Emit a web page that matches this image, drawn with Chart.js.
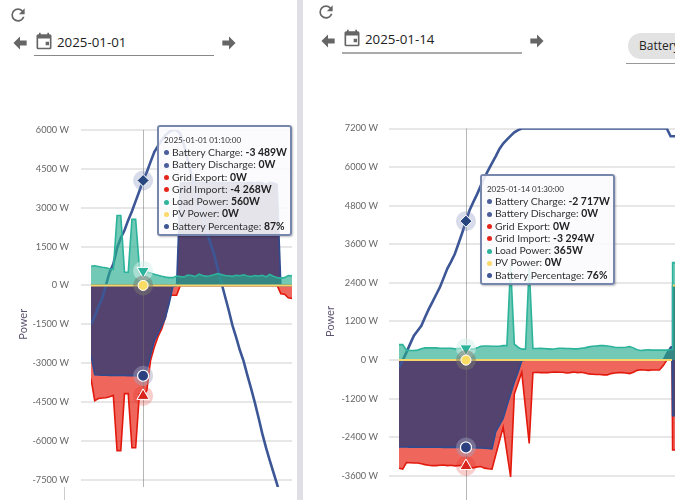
<!DOCTYPE html>
<html>
<head>
<meta charset="utf-8">
<script src="https://cdn.jsdelivr.net/npm/chart.js@4"></script>
<style>
html, body { margin: 0; padding: 0; width: 675px; height: 500px; overflow: hidden; background: #fff; font-family: "Open Sans", sans-serif; color: #333; }
.abs { position: absolute; }
.icon { position: absolute; fill: #666; }
.date { position: absolute; font-size: 13.3px; color: #222; }
.line { position: absolute; height: 1px; background: #888; width: 180px; }
.tip { position: absolute; box-sizing: border-box; width: 135px; height: 111px; padding: 7px 0 0 5px; background: rgba(250,250,253,.88); border: 2px solid #7786ad; border-radius: 3px; box-shadow: 1px 1px 2px rgba(0,0,0,.25); font-family: Lato, sans-serif; font-size: 10.4px; line-height: 12.3px; color: #333; white-space: nowrap; }
.tip .t { font-size: 8px; line-height: 12px; color: #333; }
.tip i { display: inline-block; width: 5px; height: 5px; border-radius: 50%; margin: 0 3px 1px 0; vertical-align: middle; }
.tip b { color: #222; }
</style>
</head>
<body>
<div class="abs" style="left:297px;top:0;width:6px;height:500px;background:#dfdfe5"></div>
<div class="abs" style="left:64px;top:487px;width:1px;height:13px;background:#ccc"></div>

<svg class="icon" style="left:8px;top:5px" width="20" height="20" viewBox="0 0 24 24"><path d="M17.65,6.35C16.2,4.9 14.21,4 12,4A8,8 0 0,0 4,12A8,8 0 0,0 12,20C15.73,20 18.84,17.45 19.73,14H17.65C16.83,16.33 14.61,18 12,18A6,6 0 0,1 6,12A6,6 0 0,1 12,6C13.66,6 15.14,6.69 16.22,7.78L13,11H20V4L17.65,6.35Z"/></svg>
<svg class="icon" style="left:10px;top:33px" width="20" height="20" viewBox="0 0 24 24"><path d="M20,9V15H12V19.84L4.16,12L12,4.16V9H20Z"/></svg>
<svg class="icon" style="left:34px;top:31px" width="20" height="20" viewBox="0 0 24 24"><path d="M14,13H18V17H14V13M19,20H5V9H19M19,4H18V2H16V4H8V2H6V4H5C3.9,4 3,4.9 3,6V20A2,2 0 0,0 5,22H19A2,2 0 0,0 21,20V6A2,2 0 0,0 19,4Z"/></svg>
<div class="date" style="left:57px;top:33px">2025-01-01</div>
<div class="line" style="left:34px;top:55px"></div>
<svg class="icon" style="left:219px;top:33px" width="20" height="20" viewBox="0 0 24 24"><path d="M4,15V9H12V4.16L19.84,12L12,19.84V15H4Z"/></svg>

<svg class="icon" style="left:316px;top:2px" width="20" height="20" viewBox="0 0 24 24"><path d="M17.65,6.35C16.2,4.9 14.21,4 12,4A8,8 0 0,0 4,12A8,8 0 0,0 12,20C15.73,20 18.84,17.45 19.73,14H17.65C16.83,16.33 14.61,18 12,18A6,6 0 0,1 6,12A6,6 0 0,1 12,6C13.66,6 15.14,6.69 16.22,7.78L13,11H20V4L17.65,6.35Z"/></svg>
<svg class="icon" style="left:318px;top:31px" width="20" height="20" viewBox="0 0 24 24"><path d="M20,9V15H12V19.84L4.16,12L12,4.16V9H20Z"/></svg>
<svg class="icon" style="left:342px;top:28px" width="20" height="20" viewBox="0 0 24 24"><path d="M14,13H18V17H14V13M19,20H5V9H19M19,4H18V2H16V4H8V2H6V4H5C3.9,4 3,4.9 3,6V20A2,2 0 0,0 5,22H19A2,2 0 0,0 21,20V6A2,2 0 0,0 19,4Z"/></svg>
<div class="date" style="left:365px;top:30px">2025-01-14</div>
<div class="line" style="left:342px;top:52px;height:2px;background:#aaa"></div>
<svg class="icon" style="left:527px;top:31px" width="20" height="20" viewBox="0 0 24 24"><path d="M4,15V9H12V4.16L19.84,12L12,19.84V15H4Z"/></svg>
<div class="abs" style="left:628px;top:33px;width:60px;height:26px;border-radius:13px;background:#e2e2e2;font-size:12px;line-height:25px;padding-left:11px;color:#222">Battery</div>
<div class="abs" style="left:626px;top:63px;width:49px;height:1px;background:#999"></div>

<div class="abs" style="left:0;top:0;width:297px;height:487px;overflow:hidden"><canvas id="leftChart" class="abs" style="left:0;top:100px" width="297" height="436"></canvas></div>
<div class="abs" style="left:303px;top:0;width:372px;height:500px;overflow:hidden"><canvas id="rightChart" class="abs" style="left:0;top:100px" width="395" height="431"></canvas></div>

<script>
// 2025-01-01, minutes after midnight, one reading every 5 minutes
var leftMinutes = [
  0,5,10,15,20,25,30,35,40,45,
  50,55,60,65,70,75,80,85,90,95,
  100,105,110,115,120,125,130,135,140,145,
  150,155,160,165,170,175,180,185,190,195,
  200,205,210,215,220,225,230,235,240,245,
  250,255,260,265,270];
var leftCharge = [
  -2700,-3450,-3460,-3470,-3470,-3480,-3480,-3480,-3480,-3480,
  -3485,-3485,-3485,-3490,-3489,-3250,-2700,-2150,-1850,-1560,
  -1250,-700,-50,0,0,0,0,0,0,0,
  0,0,0,0,0,0,0,0,0,0,
  0,0,0,0,0,0,0,0,0,0,
  0,0,0,0,0];
var leftDischarge = [
  0,0,0,0,0,0,0,0,0,0,
  0,0,0,0,0,0,0,0,0,0,
  0,0,0,0,3950,3980,3960,3980,3990,3970,
  3980,3960,3980,3990,3970,3980,3960,3980,3970,3990,
  3980,3960,3970,3980,3960,3980,3960,3900,3980,3950,
  3900,0,0,0,0];
var leftExport = [
  0,0,0,0,0,0,0,0,0,0,
  0,0,0,0,0,0,0,0,0,0,
  0,0,0,0,0,0,0,0,0,0,
  0,0,0,0,0,0,0,0,0,0,
  0,0,0,0,0,0,0,0,0,0,
  0,0,0,0,0];
var leftImport = [
  -3600,-4450,-4370,-4350,-4340,-4300,-4250,-6380,-6380,-4180,
  -4180,-6270,-6270,-4200,-4268,-4060,-2900,-2390,-1980,-1680,
  -1230,-390,-380,-380,0,0,0,0,0,0,
  0,0,0,0,0,0,0,0,0,0,
  0,0,0,0,0,0,0,0,0,0,
  0,-320,-340,-480,-500];
var leftLoad = [
  740,760,730,700,680,640,620,2700,2700,520,
  500,2550,2550,700,560,520,480,430,390,350,
  320,300,300,360,340,330,400,380,340,430,
  380,350,370,410,460,420,380,370,350,390,
  370,410,360,340,380,360,390,330,420,350,
  300,280,300,380,370];
var leftPv = [
  0,0,0,0,0,0,0,0,0,0,
  0,0,0,0,0,0,0,0,0,0,
  0,0,0,0,0,0,0,0,0,0,
  0,0,0,0,0,0,0,0,0,0,
  0,0,0,0,0,0,0,0,0,0,
  0,0,0,0,0];
var leftPercent = [
  50,52,54.5,56.7,60,63.4,65.5,69.6,72.2,74.2,
  76.8,79.1,81.7,84.3,87,89.2,91.8,94.3,95.9,97.4,
  98.7,99.5,100,100,99,96.1,92.3,88.4,85,81.2,
  77.6,74,71.1,68.3,64.4,60.8,57.2,53.6,49.7,46.6,
  43.3,40.5,36.9,33.5,29.9,26,21.9,18.3,15,11.9,
  8.8,5.4,2.1,1,0];

// 2025-01-14
var rightMinutes = [
  0,5,10,15,20,25,30,35,40,45,
  50,55,60,65,70,75,80,85,90,95,
  100,105,110,115,120,125,130,135,140,145,
  150,155,160,165,170,175,180,185,190,195,
  200,205,210,215,220,225,230,235,240,245,
  250,255,260,265,270,275,280,285,290,295,
  300,305,310,315,320,325,330,335,340,345,
  350,355,360,365,367,367.5,368,375];
var rightCharge = [
  -2697,-2700,-2700,-2705,-2705,-2710,-2710,-2710,-2710,-2712,
  -2712,-2712,-2714,-2714,-2715,-2715,-2716,-2716,-2717,-2720,
  -2725,-2730,-2735,-2740,-2750,-2760,-2230,-2020,-1814,-1430,
  -1055,-690,-380,-20,0,0,0,0,0,0,
  0,0,0,0,0,0,0,0,0,0,
  0,0,0,0,0,0,0,0,0,0,
  0,0,0,0,0,0,0,0,0,0,
  0,0,0,0,0,-1730,-1730,-1730];
var rightDischarge = [
  0,0,0,0,0,0,0,0,0,0,
  0,0,0,0,0,0,0,0,0,0,
  0,0,0,0,0,0,0,0,0,0,
  0,0,0,0,0,0,0,0,0,0,
  0,0,0,0,0,0,0,0,0,0,
  0,0,0,0,0,0,0,0,0,0,
  0,0,0,0,0,0,0,0,0,0,
  0,0,220,400,420,2320,2320,2320];
var rightExport = [
  0,0,0,0,0,0,0,0,0,0,
  0,0,0,0,0,0,0,0,0,0,
  0,0,0,0,0,0,0,0,0,0,
  0,0,0,0,0,0,0,0,0,0,
  0,0,0,0,0,0,0,0,0,0,
  0,0,0,0,0,0,0,0,0,0,
  0,0,0,0,0,0,0,0,0,0,
  0,0,0,0,0,0,0,0];
var rightImport = [
  -3360,-3390,-3185,-3190,-3200,-3200,-3220,-3250,-3270,-3280,
  -3280,-3270,-3260,-3280,-3270,-3290,-3280,-3270,-3294,-3320,
  -3350,-3320,-3310,-3360,-3380,-3390,-2950,-2520,-2090,-2860,
  -3630,-1050,-720,-380,-1485,-2590,-390,-380,-390,-390,
  -390,-380,-370,-380,-380,-400,-390,-370,-390,-380,
  -400,-430,-440,-450,-450,-460,-460,-420,-400,-390,
  -390,-400,-420,-380,-320,-300,-310,-320,-310,-310,
  -310,-180,0,0,0,-2790,-2790,-2790];
var rightLoad = [
  480,480,310,300,300,310,350,380,380,380,
  380,370,370,370,370,350,360,365,365,350,
  340,380,430,440,440,430,430,430,450,450,
  2950,500,400,340,340,2900,360,360,370,360,
  350,340,350,370,370,360,360,350,350,370,
  380,410,430,440,450,450,440,420,400,390,
  390,400,420,380,320,300,310,320,310,310,
  310,310,310,330,330,3030,3030,3030];
var rightPv = [
  0,0,0,0,0,0,0,0,0,0,
  0,0,0,0,0,0,0,0,0,0,
  0,0,0,0,0,0,0,0,0,0,
  0,0,0,0,0,0,0,0,0,0,
  0,0,0,0,0,0,0,0,0,0,
  0,0,0,0,0,0,0,0,0,0,
  0,0,0,0,0,0,0,0,0,0,
  0,0,0,0,0,null,2320,2320];
var rightPercent = [
  38,40,42,44.2,46.3,47.6,48.9,51.1,53.2,55.1,
  57,58.9,61.3,63.7,65.5,67.5,70.2,73,76,78.9,
  81,83,85.2,87.3,89.2,91,92.8,94.7,96.1,97.1,
  98.1,99,99.6,100,100,100,100,100,100,100,
  100,100,100,100,100,100,100,100,100,100,
  100,100,100,100,100,100,100,100,100,100,
  100,100,100,100,100,100,100,100,100,100,
  100,100,100,98,98,98,98,98];

var seriesLabels = ["Battery Charge", "Battery Discharge", "Grid Export", "Grid Import", "Load Power", "PV Power", "Battery Percentage"];
var dotColors = ["#4a5f9c", "#4a5f9c", "#e5251a", "#e5251a", "#2fb49c", "#fbd96a", "#3f5596"];

function formatWatts(v) {
  return String(v).replace(/(\d)(?=(\d{3})$)/, "$1 ") + "W";
}

// vertical line + halos behind the markers of the hovered time
var crosshair = {
  id: "crosshair",
  afterDatasetsDraw: function (chart) {
    var o = chart.options.plugins.crosshair;
    var ctx = chart.ctx, area = chart.chartArea;
    var x = chart.scales.x.getPixelForValue(o.minute);
    ctx.save();
    ctx.strokeStyle = "rgba(110,110,110,.5)";
    ctx.lineWidth = 1;
    ctx.beginPath();
    ctx.moveTo(Math.round(x) + .5, area.top);
    ctx.lineTo(Math.round(x) + .5, area.bottom);
    ctx.stroke();
    [[0, "rgba(160,165,190,.45)"], [3, "rgba(229,37,26,.22)"], [4, "rgba(215,240,235,.55)"], [5, "rgba(120,120,110,.5)"], [6, "rgba(100,115,170,.25)"]].forEach(function (h) {
      var el = chart.getDatasetMeta(h[0]).data[o.index];
      ctx.fillStyle = h[1];
      ctx.beginPath();
      ctx.arc(el.x, el.y, 10, 0, Math.PI * 2);
      ctx.fill();
      el.draw(ctx, area);
    });
    ctx.restore();
  }
};

function makeChart(id, minutes, s, o) {
  function dataset(i, arr, color, fillColor, order, marker) {
    return {
      label: seriesLabels[i],
      data: minutes.map(function (m, k) { return { x: m, y: arr[k] }; }),
      borderColor: color,
      borderWidth: 1.6,
      backgroundColor: fillColor || color,
      fill: fillColor ? "origin" : false,
      order: order,
      pointRadius: function (c) { return marker && c.dataIndex === o.index ? marker.r : 0; },
      pointStyle: marker ? marker.style : "circle",
      pointRotation: marker ? marker.rot || 0 : 0,
      pointBackgroundColor: marker ? marker.color : color,
      pointBorderColor: "#fff",
      pointBorderWidth: marker ? marker.bw : 0
    };
  }
  var blue = "#2f4a8e", purple = "#54436f", red = "#e3190d", redFill = "rgba(229,20,4,.65)", teal = "#2cb39b", tealFill = "rgba(38,172,141,.65)";
  var sets = [
    dataset(0, s.charge, blue, purple, 3, { r: 5.5, style: "circle", color: "#2c3f7f", bw: 1.2 }),
    dataset(1, s.discharge, blue, purple, 4),
    dataset(2, s.gridExport, red, redFill, 6),
    dataset(3, s.gridImport, red, redFill, 5, { r: 7, style: "triangle", color: "#d8241c", bw: 1 }),
    dataset(4, s.load, teal, tealFill, 1, { r: 7, style: "triangle", rot: 180, color: "#2cb39b", bw: 1 }),
    dataset(5, s.pv, "#f6d66b", null, 0, { r: 5, style: "circle", color: "#f8dc63", bw: 1 }),
    dataset(6, s.percent, "#3d5796", null, 2, { r: 6, style: "rectRot", color: "#27457f", bw: 1 })
  ];
  sets[6].yAxisID = "y1";
  sets[6].borderWidth = 2.6;
  sets[5].borderWidth = 2;

  var tip = document.createElement("div");
  tip.className = "tip";
  document.body.appendChild(tip);

  var chart = new Chart(document.getElementById(id), {
    type: "line",
    data: { datasets: sets },
    plugins: [crosshair],
    options: {
      responsive: false,
      animation: false,
      events: [],
      layout: { padding: o.padding },
      scales: {
        x: { type: "linear", display: false, min: 0, max: o.xMax },
        y: {
          min: o.yMin, max: o.yMax,
          afterFit: function (scale) { scale.width = o.axisWidth; },
          border: { display: false },
          grid: { color: "#e7e7e7", lineWidth: 2, tickLength: 10 },
          ticks: {
            stepSize: o.step, padding: o.tickPad, color: "#666",
            font: { family: "Lato", size: 9.2 },
            callback: function (v) { return v + " W"; }
          },
          title: { display: true, text: "Power", color: "#5d5470", font: { family: "Lato", size: 11 }, padding: { top: o.titlePad, bottom: 0 } }
        },
        y1: { display: false, min: 0, max: 100 }
      },
      plugins: {
        legend: { display: false },
        crosshair: { index: o.index, minute: minutes[o.index] },
        tooltip: {
          enabled: false,
          callbacks: { title: function () { return o.title; } },
          external: function (c) {
            var t = c.tooltip;
            var html = '<div class="t">' + t.title[0] + "</div>";
            t.dataPoints.forEach(function (p) {
              var v = p.datasetIndex === 6 ? p.parsed.y + "%" : formatWatts(p.parsed.y);
              html += '<div><i style="background:' + dotColors[p.datasetIndex] + '"></i>' + p.dataset.label + ": <b>" + v + "</b></div>";
            });
            tip.innerHTML = html;
            tip.style.left = (o.canvasLeft + t.caretX + 14) + "px";
            tip.style.top = o.tipTop + "px";
          }
        }
      }
    }
  });
  var active = sets.map(function (d, i) { return { datasetIndex: i, index: o.index }; });
  chart.tooltip.setActiveElements(active, { x: 0, y: 0 });
  chart.update();
  return chart;
}

makeChart("leftChart", leftMinutes,
  { charge: leftCharge, discharge: leftDischarge, gridExport: leftExport, gridImport: leftImport, load: leftLoad, pv: leftPv, percent: leftPercent },
  { index: 14, title: "2025-01-01 01:10:00", xMax: 270, yMin: -9000, yMax: 6000, step: 1500, axisWidth: 91, titlePad: 17, tickPad: 12, canvasLeft: 0, tipTop: 125,
    padding: { top: 30, bottom: 0, right: 5, left: 0 } });

makeChart("rightChart", rightMinutes,
  { charge: rightCharge, discharge: rightDischarge, gridExport: rightExport, gridImport: rightImport, load: rightLoad, pv: rightPv, percent: rightPercent },
  { index: 18, title: "2025-01-14 01:30:00", xMax: 375, yMin: -4800, yMax: 7200, step: 1200, axisWidth: 96, titlePad: 21, tickPad: 11, canvasLeft: 303, tipTop: 174,
    padding: { top: 28.5, bottom: 0, right: 20, left: 0 } });
</script>
</body>
</html>
